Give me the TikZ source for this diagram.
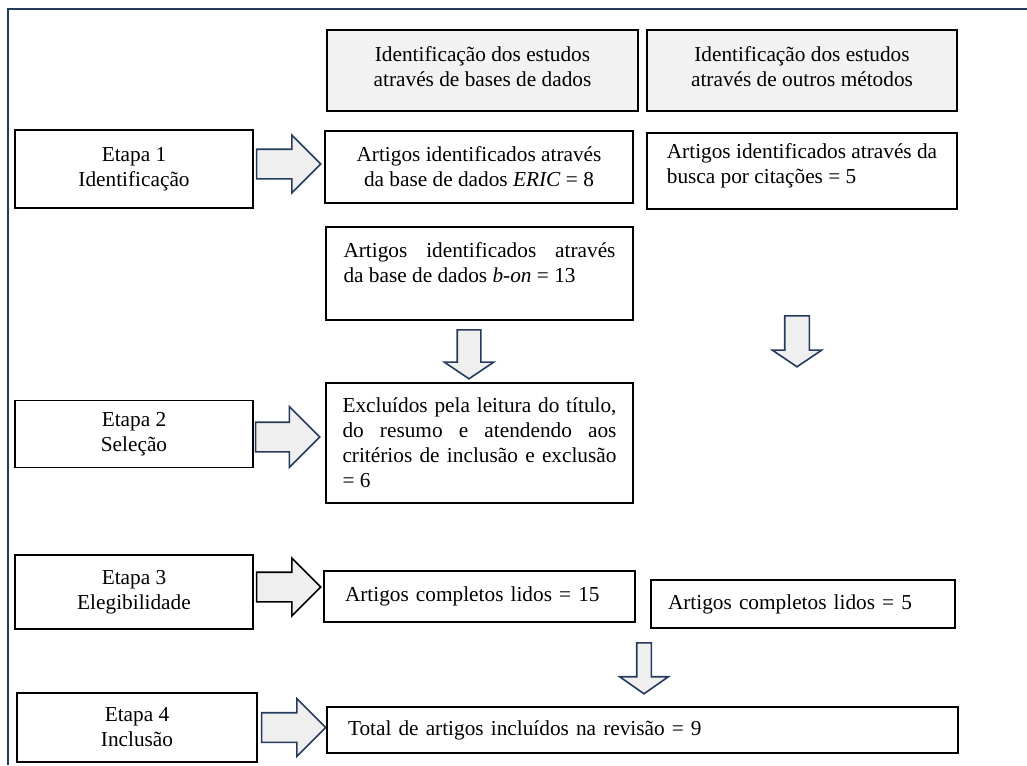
\documentclass[tikz,border=0pt]{standalone}
\usepackage{fontspec}
\setmainfont{Liberation Serif}
\usetikzlibrary{positioning, shapes.arrows}
\definecolor{navy}{HTML}{263A5C}
\definecolor{headgray}{HTML}{F2F2F2}
\definecolor{arrowgray}{HTML}{EFEFEF}
\tikzset{
    box/.style={draw, line width=1.7pt, inner ysep=0pt, align=center},
    leftbox/.style={box, align=left},
    justbox/.style={box, align=justify},
    head/.style={box, fill=headgray},
    bigarrow/.style={single arrow, draw=navy, fill=arrowgray, line width=1.6pt, inner sep=14pt,
        minimum height=64pt, single arrow head extend=14pt, single arrow tip angle=90},
    downarrow/.style={bigarrow, shape border rotate=270, inner sep=11pt, minimum height=50pt,
        single arrow head extend=13pt, single arrow tip angle=112},
    frame/.style={draw=navy, line width=1.6pt}
}
\begin{document}
\begin{tikzpicture}[x=1pt, y=-1pt, font=\fontsize{21.3}{25}\selectfont]
    \useasboundingbox (0,0) rectangle (1027,765);
    \draw[frame] (8,765) -- (8,9) -- (1027,9);

    \node[head, minimum width=311pt, minimum height=81pt] (h1) at (482.5,70.5) {Identificação dos estudos\\através de bases de dados\\[-18pt]\mbox{}};
    \node[head, minimum width=310pt, minimum height=81pt] (h2) at (802,70.5) {Identificação dos estudos\\através de outros métodos\\[-18pt]\mbox{}};

    \node[box, minimum width=238pt, minimum height=78pt] (e1) at (134,169) {Etapa 1\\Identificação};
    \node[box, minimum width=238pt, minimum height=67pt] (e2) at (134,434) {Etapa 2\\Seleção};
    \node[box, minimum width=238pt, minimum height=74pt] (e3) at (134,592) {Etapa 3\\Elegibilidade};
    \node[box, minimum width=240pt, minimum height=69pt] (e4) at (137,727.5) {Etapa 4\\Inclusão};

    \node[bigarrow, right=2pt of e1, yshift=5pt] (a1) {};
    \node[bigarrow, right=1pt of e2, yshift=-3pt, single arrow head extend=15.5pt] (a2) {};
    \node[bigarrow, draw=black, right=2pt of e3, yshift=5pt] (a3) {};
    \node[bigarrow, right=3pt of e4] (a4) {};

    \node[box, minimum width=308pt, minimum height=72pt] (eric) at (479,167) {Artigos identificados através\\da base de dados \textit{ERIC} = 8};
    \node[leftbox, minimum width=310pt, minimum height=76pt] (busca) at (802,171)
        {Artigos identificados através da\\busca por citações = 5\\[-11pt]\mbox{}};
    \node[justbox, minimum width=307pt, minimum height=93pt, text width=272pt, inner xsep=17.5pt] (bon) at (479.5,273.5)
        {Artigos identificados através\linebreak da base de dados \textit{b-on} = 13\\[-3pt]\mbox{}};

    \node[downarrow, minimum height=49pt, anchor=tail] (d1) at (469,329) {};
    \node[downarrow, inner sep=11.5pt, single arrow head extend=12.5pt, minimum height=51pt, anchor=tail] (d2) at (797,315) {};

    \node[justbox, minimum width=307pt, minimum height=120pt, text width=274pt, inner xsep=16.5pt] (excl) at (479.5,443)
        {Excluídos pela leitura do título,\linebreak do resumo e atendendo aos\linebreak critérios de inclusão e exclusão\linebreak = 6};

    \node[leftbox, minimum width=311pt, minimum height=51pt, text width=269pt, inner xsep=21pt] (lidos1) at (479.5,596.5) {Artigos completos lidos = 15};
    \node[leftbox, minimum width=304pt, minimum height=48pt, text width=270pt, inner xsep=17pt] (lidos2) at (803,604) {Artigos completos lidos = 5};

    \node[downarrow, inner sep=6.5pt, minimum height=51pt, single arrow head extend=17pt, single arrow tip angle=110, anchor=tail] (d3) at (644,642) {};

    \node[leftbox, minimum width=631pt, minimum height=46pt, text width=589pt, inner xsep=21pt] (total) at (642.5,730) {Total de artigos incluídos na revisão = 9};
\end{tikzpicture}
\end{document}
